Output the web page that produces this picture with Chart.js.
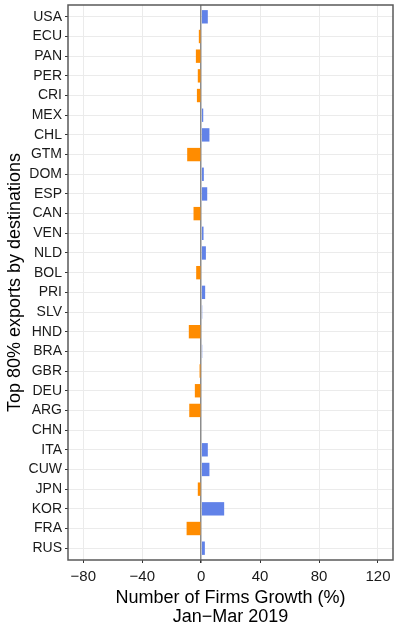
<!DOCTYPE html>
<html>
<head>
<meta charset="utf-8">
<script src="https://cdn.jsdelivr.net/npm/chart.js@4"></script>
<style>
html,body{margin:0;padding:0;background:#fff;}
#wrap{width:399px;height:626px;}
</style>
</head>
<body>
<div id="wrap"><canvas id="c" width="399" height="626"></canvas></div>
<script>
const categories = ["USA","ECU","PAN","PER","CRI","MEX","CHL","GTM","DOM","ESP","CAN","VEN","NLD","BOL","PRI","SLV","HND","BRA","GBR","DEU","ARG","CHN","ITA","CUW","JPN","KOR","FRA","RUS"];
const growth = [4.5,-1.6,-3.6,-2.3,-2.9,1.4,5.6,-9.5,1.8,4.1,-5.2,1.6,3.2,-3.4,2.7,0.7,-8.4,0.7,-1.1,-4.3,-8.1,0,4.5,5.6,-2.3,15.6,-9.9,2.5];
const xTicks = [-80,-40,0,40,80,120];
const xMin = -90.4, xMax = 130.2;

const POS = '#6182E8', NEG = '#FF8C00';
const FONT = "'Liberation Sans', Arial, Helvetica, sans-serif";

const panelBorder = {
  id: 'panelBorder',
  afterDraw(chart) {
    const {ctx, chartArea: a} = chart;
    ctx.save();
    ctx.strokeStyle = '#595959';
    ctx.lineWidth = 1.5;
    ctx.strokeRect(a.left, a.top, a.right - a.left, a.bottom - a.top);
    ctx.restore();
  }
};

new Chart(document.getElementById('c'), {
  type: 'bar',
  data: {
    datasets: [{
      data: growth.map((v, i) => ({ x: v, y: i })),
      backgroundColor: growth.map(v => v >= 0 ? POS : NEG),
      borderWidth: 0,
      barPercentage: 0.68,
      categoryPercentage: 1
    }]
  },
  options: {
    indexAxis: 'y',
    responsive: false,
    animation: false,
    devicePixelRatio: 1,
    layout: { padding: { left: 0, right: 6, top: 5, bottom: 0 } },
    plugins: { legend: { display: false }, tooltip: { enabled: false } },
    scales: {
      y: {
        type: 'linear',
        reverse: true,
        offset: false,
        min: -0.6,
        max: categories.length - 0.4,
        afterBuildTicks(s) { s.ticks = categories.map((c, i) => ({ value: i })); },
        afterFit(s) { s.width = 68; s.paddingTop = 0; s.paddingBottom = 0; },
        grid: {
          offset: false,
          color: '#EBEBEB',
          lineWidth: 1,
          tickLength: 3,
          tickColor: '#333333',
          drawTicks: true
        },
        border: { display: false },
        ticks: {
          color: '#1a1a1a',
          padding: 3,
          autoSkip: false,
          font: { family: FONT, size: 14 },
          callback: v => categories[v]
        },
        title: {
          display: true,
          text: 'Top 80% exports by destinations',
          color: '#000',
          font: { family: FONT, size: 18 },
          padding: { top: 4, bottom: 0 }
        }
      },
      x: {
        type: 'linear',
        min: xMin,
        max: xMax,
        afterFit(s) { s.height = 66; },
        afterBuildTicks(s) { s.ticks = xTicks.map(v => ({ value: v })); },
        grid: {
          color: ctx => (ctx.tick && ctx.tick.value === 0) ? '#8c8c8c' : '#EBEBEB',
          lineWidth: ctx => (ctx.tick && ctx.tick.value === 0) ? 1.5 : 1,
          tickLength: 3,
          tickColor: '#333333'
        },
        border: { display: false },
        ticks: {
          color: '#1a1a1a',
          padding: 5,
          font: { family: FONT, size: 15 },
          callback: v => String(v).replace('-', '\u2212')
        },
        title: {
          display: true,
          text: ['Number of Firms Growth (%)', 'Jan\u2212Mar 2019'],
          color: '#000',
          font: { family: FONT, size: 18, lineHeight: 1.05 },
          padding: { top: 0, bottom: 0 }
        }
      }
    }
  },
  plugins: [panelBorder]
});
</script>
</body>
</html>
